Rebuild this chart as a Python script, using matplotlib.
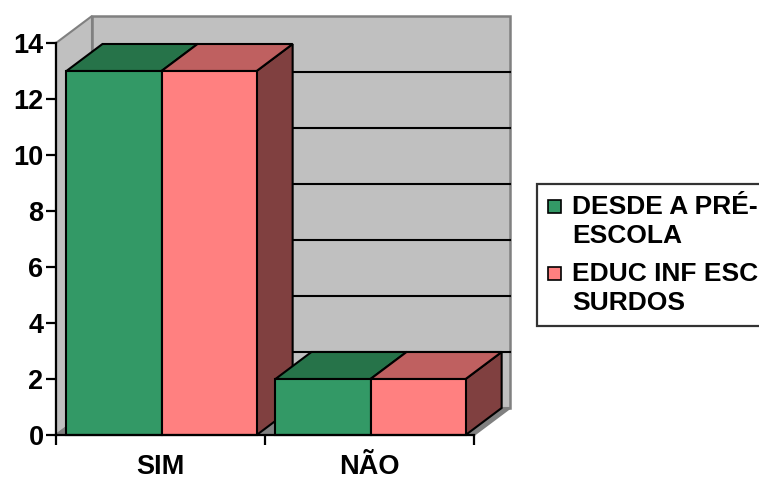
import matplotlib
matplotlib.use("Agg")
import matplotlib.pyplot as plt
import matplotlib.transforms as mtransforms
from matplotlib.patches import Polygon, Patch, Rectangle
from matplotlib.legend_handler import HandlerBase

categories = ["SIM", "NÃO"]
series_names = ["DESDE A PRÉ-\nESCOLA", "EDUC INF ESC\nSURDOS"]
desde_pre_escola = [13, 2]
educ_inf_esc_surdos = [13, 2]
yticks = [0, 2, 4, 6, 8, 10, 12, 14]

front_colors = ["#339966", "#FF8080"]
top_colors = ["#267349", "#BF6060"]
side_colors = ["#1A4D33", "#804040"]

plt.rcParams['font.family'] = ['Liberation Sans', 'DejaVu Sans']
W, H, DPI = 759, 479, 100
fig = plt.figure(figsize=(W / DPI, H / DPI), dpi=DPI)

x0, x1, y0, y1 = 56, 474, 435, 43
ax = fig.add_axes([x0 / W, 1 - y0 / H, (x1 - x0) / W, (y0 - y1) / H])
ax.set_xlim(0, len(categories))
ax.set_ylim(0, 14)
ax.patch.set_visible(False)
for s in ["top", "right"]:
    ax.spines[s].set_visible(False)
for s in ["left", "bottom"]:
    ax.spines[s].set_linewidth(1.6)
    ax.spines[s].set_zorder(20)

dx, dy = 36 / DPI, 27 / DPI
back = ax.transData + mtransforms.ScaledTranslation(dx, dy, fig.dpi_scale_trans)
front = ax.transData
ymax = yticks[-1]
ncat = len(categories)


class MixedPolygon(Polygon):
    """Polygon whose vertices each use their own transform (front/back planes)."""
    def __init__(self, points, transforms, **kw):
        self._pts = points
        self._trs = transforms
        super().__init__([(0, 0)] * len(points), closed=True, **kw)

    def draw(self, renderer):
        inv = self.axes.figure.transFigure.inverted()
        xy = [inv.transform(t.transform(p)) for p, t in zip(self._pts, self._trs)]
        self.set_xy(xy)
        self.set_transform(self.axes.figure.transFigure)
        super().draw(renderer)


def poly_mixed(points, trans_list, **kw):
    p = MixedPolygon(points, trans_list, clip_on=False, **kw)
    ax.add_artist(p)
    return p


# back wall
poly_mixed([(0, 0), (ncat, 0), (ncat, ymax), (0, ymax)], [back] * 4,
           facecolor="#C0C0C0", edgecolor="#808080", lw=1.8, zorder=1)
# left wall
poly_mixed([(0, 0), (0, 0), (0, ymax), (0, ymax)], [front, back, back, front],
           facecolor="#C0C0C0", edgecolor="#808080", lw=1.5, zorder=1)
# floor
poly_mixed([(0, 0), (ncat, 0), (ncat, 0), (0, 0)], [front, front, back, back],
           facecolor="#808080", edgecolor="#808080", lw=1.5, zorder=1)
# gridlines on back wall
for v in yticks[1:-1]:
    ax.plot([0, ncat], [v, v], color="black", lw=1.5, transform=back, zorder=2, clip_on=False)

bar_w = 0.455
left_gap = 0.05
series = [desde_pre_escola, educ_inf_esc_surdos]
z = 5
for i in range(ncat):
    for j, vals in enumerate(series):
        xa = i + left_gap + j * bar_w
        xb = xa + bar_w
        v = vals[i]
        kw = dict(edgecolor="black", lw=1.5, joinstyle="miter")
        poly_mixed([(xb, 0), (xb, 0), (xb, v), (xb, v)], [front, back, back, front],
                   facecolor=side_colors[j], zorder=z, **kw)
        poly_mixed([(xa, v), (xb, v), (xb, v), (xa, v)], [front, front, back, back],
                   facecolor=top_colors[j], zorder=z, **kw)
        poly_mixed([(xa, 0), (xb, 0), (xb, v), (xa, v)], [front] * 4,
                   facecolor=front_colors[j], zorder=z + 0.5, **kw)
        z += 1

# ticks
ax.set_yticks(yticks)
ax.set_yticklabels([str(t) for t in yticks])
ax.tick_params(axis="y", direction="out", length=7, width=1.6, pad=2, labelsize=19.5)
ax.set_xticks(range(ncat + 1))
ax.set_xticklabels([])
ax.tick_params(axis="x", which="major", direction="out", length=7, width=1.6)
ax.set_xticks([i + 0.5 for i in range(ncat)], minor=True)
ax.set_xticklabels(categories, minor=True)
ax.tick_params(axis="x", which="minor", length=0, pad=14, labelsize=19.5)
for lab in ax.get_yticklabels() + ax.get_xticklabels(minor=True):
    lab.set_fontweight("bold")

LEG_FS = 19
LINESP = 1.25


class TopSquare(HandlerBase):
    def create_artists(self, legend, orig_handle, xdescent, ydescent,
                       width, height, fontsize, trans):
        s = 0.5 * fontsize
        yc = 0.35 * fontsize + 0.5 * 1.17 * fontsize
        r = Rectangle((-xdescent, yc - s / 2), s, s,
                      facecolor=orig_handle.get_facecolor(), edgecolor="black",
                      lw=1.2, transform=trans)
        return [r]


handles = [Patch(facecolor=front_colors[k], edgecolor="black") for k in range(2)]
leg = fig.legend(handles, series_names, loc="upper left",
                 bbox_to_anchor=(537 / W, 1 - 184 / H),
                 prop=dict(family="Liberation Sans", weight="bold", size=LEG_FS),
                 frameon=True, fancybox=False, edgecolor="black",
                 handler_map={Patch: TopSquare()},
                 handlelength=0.5, handleheight=0.7, handletextpad=0.4,
                 labelspacing=0.55, borderpad=0.42, borderaxespad=0)
leg.get_frame().set_linewidth(1.6)
for t in leg.get_texts():
    t.set_linespacing(LINESP)

fig.savefig("out.png", dpi=DPI)
